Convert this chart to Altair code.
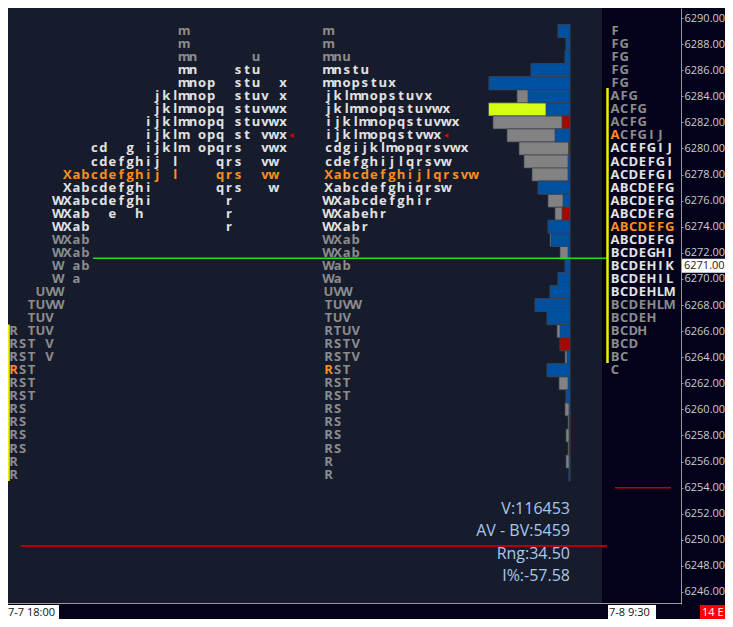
import altair as alt
import pandas as pd

# ---------------- data ----------------
# overnight TPO profile (letters per price row), top price 6289 down to 6255
TPO_ORDER = "RSTUVWXabcdefghijklmnopqrstuvwx"
TPO_PRICES = list(range(6289, 6254, -1))
TPO_ROWS = ["m", "m", "mnu", "mnstu", "mnopstux", "jklmnopstuvx", "jklmnopqstuvwx",
            "ijklmnopqstuvwx", "ijklmopqstvwx", "cdgijklmopqrsvwx", "cdefghijlqrsvw",
            "Xabcdefghijlqrsvw", "Xabcdefghiqrsw", "WXabcdefghir", "WXabehr", "WXabr",
            "WXab", "WXab", "Wab", "Wa", "UVW", "TUVW", "TUV", "RTUV", "RSTV", "RSTV",
            "RST", "RST", "RST", "RS", "RS", "RS", "RS", "R", "R"]
TPO_VALUE_AREA = [6274, 6286]
TPO_POC = 6278
TPO_OPEN = [6263, "R"]

# day session profile, 6289 down to 6263
DAY_PRICES = list(range(6289, 6262, -1))
DAY_ROWS = ["F", "FG", "FG", "FG", "FG", "AFG", "ACFG", "ACFG", "ACFGIJ", "ACEFGIJ",
            "ACDEFGI", "ACDEFGI", "ABCDEFG", "ABCDEFG", "ABCDEFG", "ABCDEFG", "ABCDEFG",
            "BCDEGHI", "BCDEHIK", "BCDEHIL", "BCDEHLM", "BCDEHLM", "BCDEH", "BCDH",
            "BCD", "BC", "C"]
DAY_VALUE_AREA = [6269, 6280]
DAY_POC = 6274
DAY_OPEN = [6281, "A"]

# volume profile (per price row, same rows as TPO_PRICES)
VOLUME = [1200, 400, 500, 3900, 8100, 5300, 8150, 7700, 6300, 5100, 4600, 3800, 3200,
          2200, 1500, 2200, 2000, 1000, 500, 1200, 2000, 3500, 2300, 1300, 1000, 500,
          2300, 1100, 400, 500, 200, 400, 200, 400, 100]
DELTA = [1200, 400, 500, 3900, 8100, 4200, 2400, -800, 1500, -150, 200, 200, 3200,
         700, -800, 2200, 1900, 200, 500, 1200, 2000, 3500, 2300, 1000, -1000, 300,
         2300, 200, 400, 100, -100, -100, -100, 100, 100]
VOL_POC = 6283

STATS = ["V:116453", "AV - BV:5459", "Rng:34.50", "I%:-57.58"]
RED_LEVEL = [6249.52]
RED_SHORT_LEVEL = [6254.0]
GREEN_LEVEL = [6271.58]
LAST_PRICE = [6271.0]
MARK_PRICE = 6281
LEFT_RANGE = [6266.5, 6254.5]
DAY_RANGE = [6284.63, 6263.55]
AXIS_TICKS = list(range(6246, 6291, 2))
TIME_LABELS = ["7-7  18:00", "7-8  9:30"]
TAG = ["14 E"]

# ---------------- colours ----------------
PANEL = "#171c2d"
DARK = "#03021a"
TIERS = ["outside", "value", "poc"]
TIER_COLORS = ["#8c8c8c", "#e2e2e2", "#ff8c1a"]


def explode(prices, rows, va, poc, opn):
    recs = []
    for p, s in zip(prices, rows):
        tier = "poc" if p == poc else ("value" if va[0] <= p <= va[1] else "outside")
        for i, ch in enumerate(s):
            t = "poc" if (p == opn[0] and ch == opn[1]) else tier
            recs.append(dict(price=p, ch=ch, pos=i, col=TPO_ORDER.find(ch), tier=t))
    return pd.DataFrame(recs)


tpo_df = explode(TPO_PRICES, TPO_ROWS, TPO_VALUE_AREA, TPO_POC, TPO_OPEN)
day_df = explode(DAY_PRICES, DAY_ROWS, DAY_VALUE_AREA, DAY_POC, DAY_OPEN)
vol_df = pd.DataFrame({"price": TPO_PRICES, "volume": VOLUME, "delta": DELTA})
mark_row = TPO_ROWS[TPO_PRICES.index(MARK_PRICE)]
mark_left = pd.DataFrame({"p": [MARK_PRICE], "c": [TPO_ORDER.find(mark_row[-1]) + 1]})
mark_mid = pd.DataFrame({"p": [MARK_PRICE], "c": [len(mark_row)]})

W, H = 673, 596
PAD = {"left": 0, "top": 0, "right": 44, "bottom": 15}
YS = alt.Scale(domain=[6245.08, 6290.77], nice=False, zero=False)
YA = alt.Axis(orient="right", values=AXIS_TICKS, format=".2f", title=None, grid=False)
XV = alt.Scale(domain=[0, 10000], range=[562, 462], nice=False, zero=False)
X_LEFT = alt.Scale(domain=[0, 30], range=[5.5, 274.9], nice=False, zero=False)
X_MID = alt.Scale(domain=[0, 16], range=[320.5, 465.5], nice=False, zero=False)
X_DAY = alt.Scale(domain=[0, 6], range=[607, 661.6], nice=False, zero=False)
tier_color = alt.Color("tier:N", scale=alt.Scale(domain=TIERS, range=TIER_COLORS), legend=None)
one = pd.DataFrame({"a": [0]})


def Y(field):
    return alt.Y(field, scale=YS, axis=YA)


letter_mark = dict(font="Open Sans", fontWeight="bold", fontSize=13, baseline="middle", align="center")

# dark right column
dark_col = alt.Chart(one).mark_rect(color=DARK).encode(
    x=alt.value(594), x2=alt.value(W), y=alt.value(0), y2=alt.value(H))

# volume bars
bars_base = alt.Chart(vol_df).transform_calculate(
    top="datum.price + 0.5", bot="datum.price - 0.5",
    kind=f"datum.price == {VOL_POC} ? 'poc' : 'total'",
    absd="abs(datum.delta)",
    side="datum.delta >= 0 ? 'buy' : 'sell'")
bars_total = bars_base.mark_rect(stroke="#3a404e", strokeWidth=0.7).encode(
    x=alt.X("volume:Q", scale=XV, axis=None), x2=alt.datum(0),
    y=Y("top:Q"), y2="bot:Q",
    color=alt.Color("kind:N", scale=alt.Scale(domain=["total", "poc"], range=["#828282", "#d4ff14"]), legend=None))
bars_delta = bars_base.mark_rect(stroke="#3a404e", strokeWidth=0.7).encode(
    x=alt.X("absd:Q", scale=XV, axis=None), x2=alt.datum(0),
    y=Y("top:Q"), y2="bot:Q",
    color=alt.Color("side:N", scale=alt.Scale(domain=["buy", "sell"], range=["#0050a0", "#a00a00"]), legend=None))

# level lines
red_line = alt.Chart(pd.DataFrame({"p": RED_LEVEL})).mark_rule(color="#b00000", strokeWidth=2).encode(
    y=Y("p:Q"), x=alt.value(13), x2=alt.value(599))
red_short = alt.Chart(pd.DataFrame({"p": RED_SHORT_LEVEL})).mark_rule(color="#c00000", strokeWidth=1.5).encode(
    y=Y("p:Q"), x=alt.value(607), x2=alt.value(663))
green_line = alt.Chart(pd.DataFrame({"p": GREEN_LEVEL})).mark_rule(color="#22dd22", strokeWidth=1.5).encode(
    y=Y("p:Q"), x=alt.value(85), x2=alt.value(599))
left_range = alt.Chart(pd.DataFrame({"p0": [LEFT_RANGE[0]], "p1": [LEFT_RANGE[1]]})).mark_rule(
    color="#f0f000", strokeWidth=2).encode(y=Y("p0:Q"), y2="p1:Q", x=alt.value(0.8))
day_range = alt.Chart(pd.DataFrame({"p0": [DAY_RANGE[0]], "p1": [DAY_RANGE[1]]})).mark_rule(
    color="#f0f000", strokeWidth=2.5).encode(y=Y("p0:Q"), y2="p1:Q", x=alt.value(599.5))
bottom_line = alt.Chart(one).mark_rule(color="#9a9a9a", strokeWidth=1).encode(
    y=alt.value(H - 0.5), x=alt.value(0), x2=alt.value(W))

# letter profiles
tpo_left = alt.Chart(tpo_df).mark_text(**letter_mark).encode(
    x=alt.X("col:Q", scale=X_LEFT, axis=None), y=Y("price:Q"), text="ch:N", color=tier_color)
tpo_mid = alt.Chart(tpo_df).mark_text(**letter_mark).encode(
    x=alt.X("pos:Q", scale=X_MID, axis=None), y=Y("price:Q"), text="ch:N", color=tier_color)
day_prof = alt.Chart(day_df).mark_text(**letter_mark).encode(
    x=alt.X("pos:Q", scale=X_DAY, axis=None), y=Y("price:Q"), text="ch:N", color=tier_color)

tri = dict(shape="triangle-left", filled=True, size=26, color="#e00000", opacity=1)
mark_l = alt.Chart(mark_left).mark_point(**tri).encode(
    y=Y("p:Q"), x=alt.X("c:Q", scale=X_LEFT, axis=None))
mark_m = alt.Chart(mark_mid).mark_point(**tri).encode(
    y=Y("p:Q"), x=alt.X("c:Q", scale=X_MID, axis=None))

stats = alt.Chart(one).mark_text(font="Open Sans", fontSize=16, align="right", baseline="middle",
                                 lineHeight=22.3, color="#a6c8ec").encode(
    x=alt.value(562), y=alt.value(501), text=alt.value(STATS))

# last price box on axis
last_box = alt.Chart(pd.DataFrame({"p": LAST_PRICE})).transform_calculate(
    t="datum.p + 0.54", b="datum.p - 0.53").mark_rect(color="#ffffff").encode(
    y=Y("t:Q"), y2="b:Q", x=alt.value(674), x2=alt.value(717))
last_txt = alt.Chart(pd.DataFrame({"p": LAST_PRICE})).transform_calculate(
    lab="format(datum.p, '.2f')").mark_text(font="Open Sans", fontSize=11, align="left",
                                            baseline="middle", color="#1a1a1a").encode(
    y=Y("p:Q"), x=alt.value(676), text="lab:N")

# time labels
small = dict(font="Open Sans", fontSize=11, align="left", baseline="middle")
t1_box = alt.Chart(one).mark_rect(color="#ffffff").encode(
    x=alt.value(0), x2=alt.value(51), y=alt.value(597), y2=alt.value(611))
t1_txt = alt.Chart(pd.DataFrame({"t": [TIME_LABELS[0]]})).mark_text(color="#111111", **small).encode(
    x=alt.value(0), y=alt.value(604.5), text="t:N")
t2_box = alt.Chart(one).mark_rect(color="#ffffff").encode(
    x=alt.value(600), x2=alt.value(648), y=alt.value(597), y2=alt.value(611))
t2_txt = alt.Chart(pd.DataFrame({"t": [TIME_LABELS[1]]})).mark_text(color="#111111", **small).encode(
    x=alt.value(601), y=alt.value(604.5), text="t:N")
tag_box = alt.Chart(one).mark_rect(color="#ff0000").encode(
    x=alt.value(692), x2=alt.value(717), y=alt.value(597), y2=alt.value(611))
tag_txt = alt.Chart(pd.DataFrame({"t": TAG})).mark_text(color="#ffffff", **small).encode(
    x=alt.value(694), y=alt.value(604.5), text="t:N")

chart = alt.layer(
    dark_col, bars_total, bars_delta, red_line, red_short, green_line, left_range, day_range,
    bottom_line, tpo_left, tpo_mid, day_prof, mark_l, mark_m, stats, last_box, last_txt,
    t1_box, t1_txt, t2_box, t2_txt, tag_box, tag_txt
).resolve_scale(x="independent", color="independent").properties(
    width=W, height=H, padding=PAD,
    autosize=alt.AutoSizeParams(type="none"),
).configure(background=DARK).configure_view(fill=PANEL, stroke=None).configure_axis(
    labelFont="Open Sans", labelFontSize=11, labelColor="#cdcdcd", domainColor="#9a9a9a",
    tickColor="#9a9a9a", tickSize=2, labelPadding=1, grid=False)

chart.save("out.html", embed_options={"renderer": "svg", "actions": False})
